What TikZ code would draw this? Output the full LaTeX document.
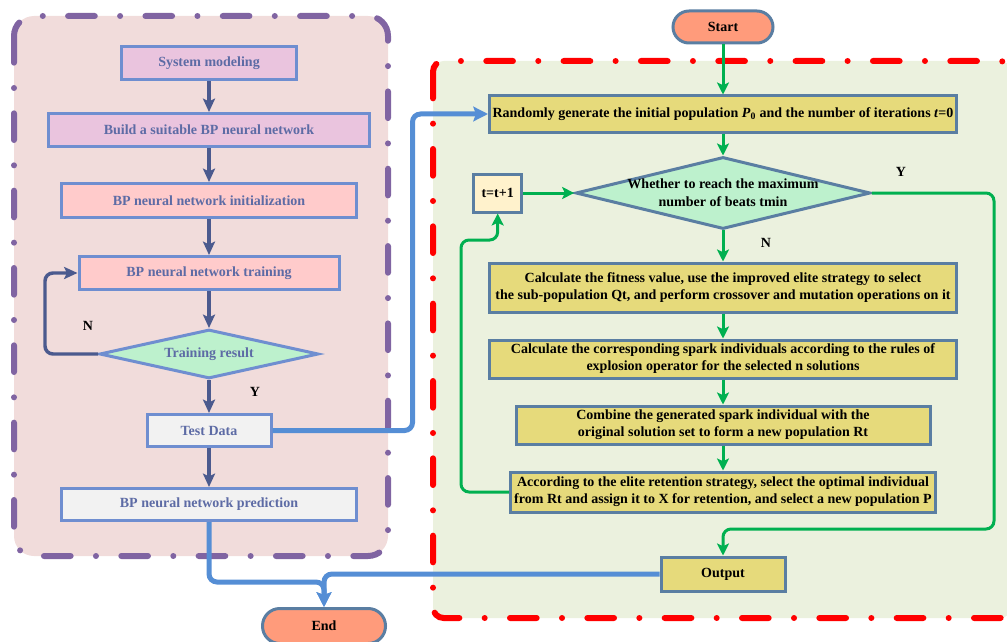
\documentclass[tikz,border=0pt]{standalone}
\usepackage{fontspec}
\setmainfont{Liberation Serif}
\usepackage{tikz}
\usetikzlibrary{shapes.geometric, arrows.meta, positioning}
\definecolor{leftbg}{HTML}{F1DCDB}
\definecolor{rightbg}{HTML}{EBF1DE}
\definecolor{framepurple}{HTML}{8064A2}
\definecolor{framered}{HTML}{FF0000}
\definecolor{bpborder}{HTML}{6F8ED0}
\definecolor{bptext}{HTML}{5D6BA5}
\definecolor{bpline}{HTML}{4B5A8E}
\definecolor{mauvefill}{HTML}{EAC4DE}
\definecolor{pinkfill}{HTML}{FFCBCB}
\definecolor{mintfill}{HTML}{BDF1CD}
\definecolor{greyfill}{HTML}{F2F2F2}
\definecolor{linkblue}{HTML}{558ED5}
\definecolor{salmon}{HTML}{FF9B7B}
\definecolor{steelborder}{HTML}{5A7EA2}
\definecolor{olivefill}{HTML}{E6DA7B}
\definecolor{creamfill}{HTML}{FFF2CC}
\definecolor{loopgreen}{HTML}{00B050}
\tikzstyle{bpbox} = [rectangle, minimum height=24.75pt, inner sep=2pt, text centered, draw=bpborder, line width=2.25pt, text=bptext, font=\bfseries\fontsize{10.5}{12.75}\selectfont]
\tikzstyle{bpdecision} = [diamond, aspect=4.3, inner sep=0pt, minimum width=164.25pt, minimum height=36.75pt, text centered, draw=bpborder, line width=2.25pt, fill=mintfill, text=bptext, font=\bfseries\fontsize{10.5}{12.75}\selectfont]
\tikzstyle{terminal} = [rectangle, rounded corners=12pt, minimum width=75pt, minimum height=24pt, inner sep=1pt, draw=steelborder, fill=salmon, line width=2.25pt, font=\bfseries\fontsize{10.5}{12.75}\selectfont]
\tikzstyle{fwabox} = [rectangle, align=center, inner sep=2pt, draw=steelborder, fill=olivefill, line width=2.25pt, font=\bfseries\fontsize{10.5}{12.75}\selectfont]
\tikzstyle{fwadecision} = [diamond, aspect=3.9, inner sep=-3pt, align=center, minimum width=221pt, minimum height=54pt, draw=steelborder, fill=mintfill, line width=2.25pt, font=\bfseries\fontsize{10.5}{13.5}\selectfont]
\tikzstyle{counter} = [rectangle, minimum width=36pt, minimum height=28.5pt, inner sep=1pt, draw=steelborder, fill=creamfill, line width=2.25pt, font=\bfseries\fontsize{10.5}{12.75}\selectfont]
\tikzstyle{yn} = [text=black, font=\bfseries\fontsize{10.5}{12.75}\selectfont]
\tikzstyle{larrow} = [line width=2.6pt, ->, >={Stealth[length=10pt, width=9pt, inset=2pt]}, color=bpline]
\tikzstyle{linkarrow} = [line width=3.75pt, ->, >={Stealth[length=11pt, width=11pt, inset=2pt]}, color=linkblue, rounded corners=6pt]
\tikzstyle{garrow} = [line width=2.25pt, ->, >={Stealth[length=9pt, width=9pt, inset=2pt]}, color=loopgreen]
\tikzstyle{frame} = [line width=4.5pt, line cap=round, dash pattern=on 20pt off 19pt on 0pt off 19pt]

\begin{document}
\begin{tikzpicture}[x=0.75pt, y=-0.75pt, every node/.style={font=\bfseries\fontsize{10.5}{12.75}\selectfont}]
    \useasboundingbox (0,0) rectangle (1007,642);
    % the two dashed panels
    \draw[frame, draw=framepurple, fill=leftbg, rounded corners=15pt] (14,16) rectangle (388,556);
    \draw[frame, draw=framered, fill=rightbg, rounded corners=8pt] (433,61) rectangle (1011,618);

    % BP neural network side
    \node[bpbox, fill=mauvefill, minimum width=131.25pt] (sysmodel) at (209,63) {System modeling};
    \node[bpbox, fill=mauvefill, minimum width=240.75pt, below=23.25pt of sysmodel] (buildnet) {Build a suitable BP neural network};
    \node[bpbox, fill=pinkfill, minimum width=221.25pt, minimum height=25.5pt, below=25.5pt of buildnet] (bpinit) {BP neural network initialization};
    \node[bpbox, fill=pinkfill, minimum width=195pt, below=27pt of bpinit] (bptrain) {BP neural network training};
    \node[bpdecision, below=27.75pt of bptrain] (trainres) {Training result};
    \node[bpbox, fill=greyfill, minimum width=93pt, minimum height=24pt, below=24.75pt of trainres] (testdata) {Test Data};
    \node[bpbox, fill=greyfill, minimum width=221.25pt, minimum height=24pt, below=29.25pt of testdata] (bppred) {BP neural network prediction};
    \node[terminal, minimum width=92.25pt, minimum height=26.25pt, rounded corners=13pt] (finish) at (324,626) {End};
    \node[yn] (nlabel) at (88,326) {N};

    % fireworks side
    \node[terminal] (start) at (723,27) {Start};
    \node[fwabox, minimum width=350.25pt, minimum height=27pt, below=37.5pt of start] (initpop) {Randomly generate the initial population \textit{P}\textsubscript{0} and the number of iterations \textit{t}=0};
    \node[fwadecision, below=16.5pt of initpop] (maxiter) {Whether to reach the maximum\\number of beats tmin};
    \node[fwabox, minimum width=350.25pt, minimum height=36.75pt, below=23.25pt of maxiter] (fitness) {Calculate the fitness value, use the improved elite strategy to select\\the sub-population Qt, and perform crossover and mutation operations on it};
    \node[fwabox, minimum width=350.25pt, minimum height=28.5pt, below=18.75pt of fitness] (spark) {Calculate the corresponding spark individuals according to the rules of\\explosion operator for the selected n solutions};
    \node[fwabox, minimum width=310.5pt, minimum height=28.5pt, below=18.75pt of spark] (combine) {Combine the generated spark individual with the\\original solution set to form a new population Rt};
    \node[fwabox, minimum width=318.75pt, minimum height=30pt, below=18.75pt of combine] (elite) {According to the elite retention strategy, select the optimal individual\\from Rt and assign it to X for retention, and select a new population P};
    \node[fwabox, minimum width=93pt, minimum height=25.5pt, below=31.5pt of elite] (output) {Output};
    \node[counter, left=38.25pt of maxiter] (tstep) {t=t+1};
    \node[yn] (ylabel) at (901,172) {Y};

    \draw[larrow] (sysmodel) -- (buildnet);
    \draw[larrow] (buildnet) -- (bpinit);
    \draw[larrow] (bpinit) -- (bptrain);
    \draw[larrow] (bptrain) -- (trainres);
    \draw[larrow] (trainres) -- node[yn, pos=0.35, right=26pt] (ytest) {Y} (testdata);
    \draw[larrow] (testdata) -- (bppred);
    \draw[larrow, rounded corners=6pt] (trainres.west) -- ++(-53,0) |- (bptrain.west);

    \draw[linkarrow] (testdata.east) -- ++(140,0) |- (initpop.west);
    \draw[linkarrow] (bppred.south) -- ++(0,60) -| (finish.north);
    \draw[linkarrow] (output.west) -| (finish.north);

    \draw[garrow] (start) -- (initpop);
    \draw[garrow] (initpop) -- (maxiter);
    \draw[garrow] (maxiter) -- node[yn, pos=0.4, right=24pt] (nloop) {N} (fitness);
    \draw[garrow] (fitness) -- (spark);
    \draw[garrow] (spark) -- (combine);
    \draw[garrow] (combine) -- (elite);
    \draw[garrow] (tstep) -- (maxiter);
    \draw[garrow, rounded corners=6pt] (elite.west) -| (461,240) -| (tstep.south);
    \draw[garrow, rounded corners=6pt] (maxiter.east) -| (994,529) -| (output.north);
\end{tikzpicture}
\end{document}
